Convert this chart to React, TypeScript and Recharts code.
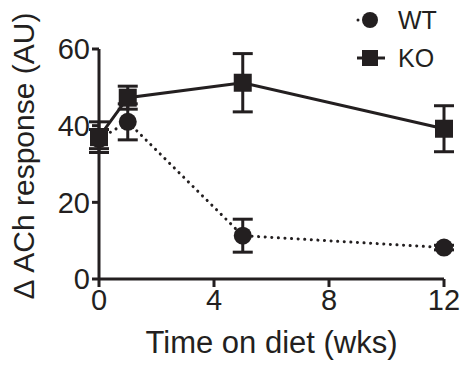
import { ComposedChart, XAxis, YAxis, Line, ErrorBar } from 'recharts'

const weeks = [0, 1, 5, 12]
const wtMean = [36.5, 41, 11.3, 8.2]
const wtSem = [2.5, 4.7, 4.3, 0.6]
const koMean = [37, 47.3, 51.2, 39.2]
const koSem = [4, 3, 7.6, 6]
const xTicks = [0, 4, 8, 12]
const yTicks = [0, 20, 40, 60]

const ink = '#231f20'
const font = '"Liberation Sans", Arial, sans-serif'

const wtData = weeks.map((w, i) => ({ x: w, y: wtMean[i], err: wtSem[i] }))
const koData = weeks.map((w, i) => ({ x: w, y: koMean[i], err: koSem[i] }))

const CircleDot = (props: any) => (
  <circle key={`c-${props.index}`} cx={props.cx} cy={props.cy} r={9} fill={ink} />
)

const SquareDot = (props: any) => (
  <rect key={`s-${props.index}`} x={props.cx - 9} y={props.cy - 9} width={18} height={18} fill={ink} />
)

// legend sits over the chart so it doesn't push the plot down
const LegendBox = () => (
  <div
    style={{
      position: 'absolute',
      left: 350,
      top: 1,
      fontFamily: font,
      fontSize: 25,
      color: ink,
      lineHeight: '38px',
    }}
  >
    <div style={{ display: 'flex', alignItems: 'center' }}>
      <svg width={40} height={38}>
        <circle cx={8} cy={19} r={1.5} fill={ink} />
        <circle cx={20} cy={19} r={8} fill={ink} />
      </svg>
      <span style={{ marginLeft: 8 }}>WT</span>
    </div>
    <div style={{ display: 'flex', alignItems: 'center' }}>
      <svg width={40} height={38}>
        <line x1={7} x2={35} y1={19} y2={19} stroke={ink} strokeWidth={3} />
        <rect x={12} y={11} width={16} height={16} fill={ink} />
      </svg>
      <span style={{ marginLeft: 8 }}>KO</span>
    </div>
  </div>
)

export default function App() {
  return (
    <div style={{ position: 'absolute', left: 0, top: 0, width: 465, height: 366 }}>
      <ComposedChart width={465} height={366} margin={{ top: 49, right: 21, left: 0, bottom: 0 }}>
        <XAxis
          type="number"
          dataKey="x"
          domain={[0, 12]}
          ticks={xTicks}
          allowDuplicatedCategory={false}
          height={87}
          axisLine={{ stroke: ink, strokeWidth: 3 }}
          tickLine={{ stroke: ink, strokeWidth: 3 }}
          tickSize={8}
          tick={{ fill: ink, fontSize: 29, fontFamily: font }}
          label={{
            content: (p: any) => (
              <text
                x={p.viewBox.x + p.viewBox.width / 2}
                y={353}
                textAnchor="middle"
                fill={ink}
                fontSize={31}
                fontFamily={font}
              >
                Time on diet (wks)
              </text>
            ),
          }}
        />
        <YAxis
          type="number"
          domain={[0, 60]}
          ticks={yTicks}
          width={99}
          axisLine={{ stroke: ink, strokeWidth: 3 }}
          tickLine={{ stroke: ink, strokeWidth: 3 }}
          tickSize={7}
          tick={{ fill: ink, fontSize: 29, fontFamily: font }}
          label={{
            content: () => (
              <text
                x={0}
                y={0}
                transform="translate(34,156) rotate(-90)"
                textAnchor="middle"
                fill={ink}
                fontSize={30}
                fontFamily={font}
              >
                Δ ACh response (AU)
              </text>
            ),
          }}
        />
        <Line
          data={wtData}
          dataKey="y"
          name="WT"
          stroke={ink}
          strokeWidth={3}
          strokeDasharray="0.1 6.5"
          strokeLinecap="round"
          dot={CircleDot}
          activeDot={false}
          isAnimationActive={false}
        >
          <ErrorBar dataKey="err" direction="y" width={10} stroke={ink} strokeWidth={3} />
        </Line>
        <Line
          data={koData}
          dataKey="y"
          name="KO"
          stroke={ink}
          strokeWidth={3}
          dot={SquareDot}
          activeDot={false}
          isAnimationActive={false}
        >
          <ErrorBar dataKey="err" direction="y" width={10} stroke={ink} strokeWidth={3} />
        </Line>
      </ComposedChart>
      <LegendBox />
    </div>
  )
}
